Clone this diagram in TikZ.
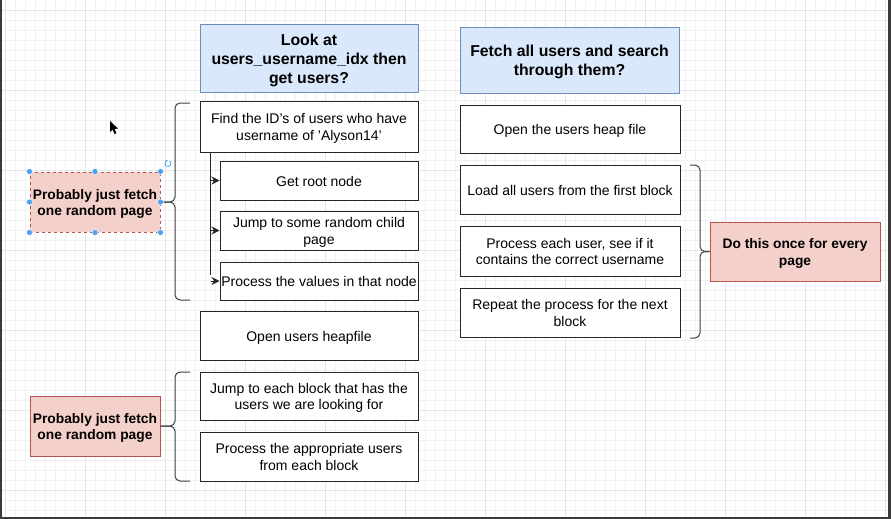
\documentclass[tikz,border=0pt]{standalone}
\usepackage{fontspec}
\setmainfont{Liberation Sans}
\usetikzlibrary{arrows.meta}
\definecolor{bluefill}{HTML}{DAE8FC}
\definecolor{blueline}{HTML}{6C8EBF}
\definecolor{pinkfill}{HTML}{F4D0CB}
\definecolor{pinkline}{HTML}{B85450}
\definecolor{handleblue}{HTML}{4DA3F0}
\definecolor{gridc}{HTML}{F1F1F1}
\definecolor{gridmaj}{HTML}{E6E6E6}
\definecolor{framec}{HTML}{3A3A3A}
\newcommand{\dtext}[1]{\raisebox{-2.2pt}[\height][\depth]{\begin{tabular}{@{}c@{}}#1\end{tabular}}}
\tikzset{
  box/.style={draw=black!85, line width=1pt, fill=white,
    font=\fontsize{14}{16.5}\selectfont, inner sep=1pt},
  head/.style={draw=blueline, line width=1pt, fill=bluefill,
    font=\fontsize{15.8}{19}\selectfont\bfseries, inner sep=1pt},
  note/.style={draw=pinkline, line width=1pt, fill=pinkfill,
    font=\fontsize{13.8}{16.5}\selectfont\bfseries, inner sep=1pt},
  brace/.style={draw=black!75, line width=1pt, rounded corners=5pt},
  handle/.style={fill=handleblue, draw=white, line width=0.4pt},
  conn/.style={draw=black!85, line width=1pt},
  tip/.style={-{Stealth[length=8pt,width=8pt]}}
}
\begin{document}
\begin{tikzpicture}[x=1pt,y=-1pt]
\useasboundingbox (0,0) rectangle (891,519);
\fill[white] (0,0) rectangle (891,519);
% grid
\foreach \x in {5,15,...,885} \draw[gridc, line width=0.5pt] (\x,0) -- (\x,519);
\foreach \y in {10,20,...,510} \draw[gridc, line width=0.5pt] (0,\y) -- (891,\y);
\foreach \x in {5,85,...,885} \draw[gridmaj, line width=0.6pt] (\x,0) -- (\x,519);
\foreach \y in {10,90,...,510} \draw[gridmaj, line width=0.6pt] (0,\y) -- (891,\y);
% window frame
\fill[framec] (0,0) rectangle (2,519);
\fill[framec] (888,0) rectangle (891,519);
\fill[framec] (0,517) rectangle (891,519);

% headers
\node[head, minimum width=218pt, minimum height=67pt] (h1) at (309,58.5)
  {\dtext{Look at\\users\_username\_idx then\\get users?}};
\node[head, minimum width=219pt, minimum height=65pt] (h2) at (569.5,60.5)
  {\dtext{Fetch all users and search\\through them?}};

% left column
\node[box, minimum width=218pt, minimum height=51pt] (find) at (309,126.5)
  {\dtext{Find the ID's of users who have\\username of 'Alyson14'}};
\node[box, minimum width=198pt, minimum height=39pt] (root) at (319,180.5)
  {\dtext{Get root node}};
\node[box, minimum width=198pt, minimum height=39pt] (jump) at (319,230.5)
  {\dtext{Jump to some random child\\page}};
\node[box, minimum width=198pt, minimum height=38pt] (proc) at (319,281)
  {\dtext{Process the values in that node}};
\node[box, minimum width=218pt, minimum height=49pt] (heap) at (309,335.5)
  {\dtext{Open users heapfile}};
\node[box, minimum width=218pt, minimum height=48pt] (each) at (309,396)
  {\dtext{Jump to each block that has the\\users we are looking for}};
\node[box, minimum width=218pt, minimum height=49pt] (appr) at (309,456.5)
  {\dtext{Process the appropriate users\\from each block}};

% right column
\node[box, minimum width=220pt, minimum height=48pt] (r1) at (570,129)
  {\dtext{Open the users heap file}};
\node[box, minimum width=220pt, minimum height=49pt] (r2) at (570,189.5)
  {\dtext{Load all users from the first block}};
\node[box, minimum width=220pt, minimum height=50pt] (r3) at (570,251)
  {\dtext{Process each user, see if it\\contains the correct username}};
\node[box, minimum width=220pt, minimum height=49pt] (r4) at (570,312.5)
  {\dtext{Repeat the process for the next\\block}};

% notes
\node[note, dashed, minimum width=130pt, minimum height=60pt] (p1) at (95,202)
  {\dtext{Probably just fetch\\one random page}};
\node[note, minimum width=130pt, minimum height=60pt] (p2) at (95,426)
  {\dtext{Probably just fetch\\one random page}};
\node[note, minimum width=170pt, minimum height=59pt] (p3) at (795,251.5)
  {\dtext{Do this once for every\\page}};

% tree connector
\coordinate (trunk) at ([xshift=11pt]find.south west);
\draw[conn] (trunk) -- ([yshift=6pt]trunk |- proc.west);
\draw[conn, tip] (trunk |- root.west) -- (root.west);
\draw[conn, tip] (trunk |- jump.west) -- (jump.west);
\draw[conn, tip] (trunk |- proc.west) -- (proc.west);

% braces
\coordinate (b1mid) at (175,202);
\draw[brace] (190,103) -| (b1mid) -- (p1.east);
\draw[brace] (190,300) -| (b1mid) -- (p1.east);
\coordinate (b2mid) at (175,426);
\draw[brace] (190,372) -| (b2mid) -- (p2.east);
\draw[brace] (190,481) -| (b2mid) -- (p2.east);
\coordinate (b3mid) at (700,251.5);
\draw[brace] (690,165) -| (b3mid) -- (p3.west);
\draw[brace] (690,338) -| (b3mid) -- (p3.west);

% selection handles
\foreach \a in {north west,north,north east,east,south east,south,south west,west}
  \fill[handle] (p1.\a) circle (3pt);
\draw[handleblue, line width=0.8pt] (168,163.5) ++(60:3pt) arc (60:-240:3pt);
\draw[handleblue, line width=0.8pt, -{Stealth[length=2pt,width=2.5pt]}] (166.5,160.9) -- (165.6,160.2);

% cursor
\fill[black] (110,121) -- (110,132) -- (112.6,129.6) -- (114.6,134) -- (116.4,133.2) -- (114.5,128.9) -- (118,128.6) -- cycle;
\end{tikzpicture}
\end{document}
